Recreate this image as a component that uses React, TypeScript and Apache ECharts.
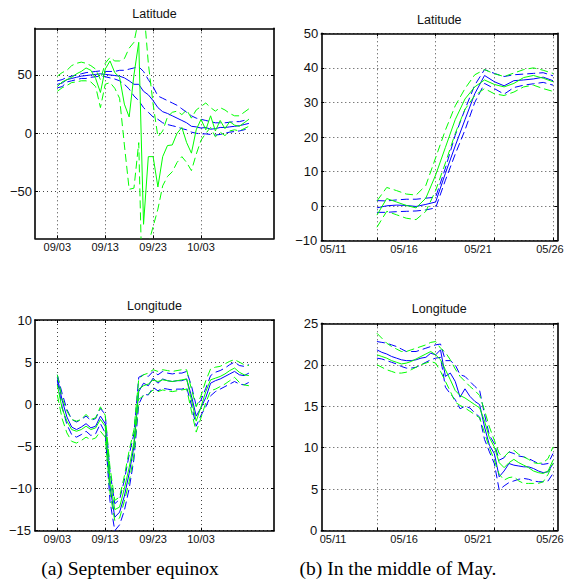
import React, { useEffect, useRef } from 'react';
import * as echarts from 'echarts';

// ---------- tick positions & labels ----------
const sepTickDays = [0, 10, 20, 30]; // days after 09/03
const sepTickLabels = ['09/03', '09/13', '09/23', '10/03'];
const mayGridPos = [0, 6, 12, 18]; // sample units
const mayLabelPos = [-4.49, 2.78, 10.34, 17.69];
const mayTickLabels = ['05/11', '05/16', '05/21', '05/26'];

const latSepTicks = [-50, 0, 50];
const lonSepTicks = [-15, -10, -5, 0, 5, 10];
const latMayTicks = [-10, 0, 10, 20, 30, 40, 50];
const lonMayTicks = [0, 5, 10, 15, 20, 25];

// ---------- (a) September equinox : Latitude (daily samples from 09/03) ----------
const latSepBlue = [42, 43, 46, 47, 48, 49, 49.5, 50, 50.5, 51, 50.5, 50, 49.5, 49, 47.5, 45, 42, 42, 36, 33, 28, 22, 18.5, 17, 15, 13, 11, 9, 6, 5.5, 4.5, 5, 3.5, 4, 5, 5, 5.5, 6, 6.5, 7.5, 8.5];
const latSepBlueUp = [45, 46, 48, 49, 50, 51, 52, 52.5, 53, 53.5, 53, 53, 53, 54, 54, 55, 56, 57, 53, 46, 40, 32, 30, 28, 26, 24, 21, 18, 15, 13, 12, 11, 10, 9, 9, 9, 9.5, 10, 10, 11, 12];
const latSepBlueLo = [39, 40, 44, 45, 46, 47, 47, 48, 48.5, 49, 48.5, 47.5, 46.5, 45, 42, 38, 32, 28, 22, 18, 14, 12, 9, 7.5, 6.5, 5.5, 4, 3, 1, 0, -0.5, -0.5, -1, -1.5, -1, 0, 1, 1.5, 2, 3, 4.5];
const latSepGreen = [40, 44, 46, 48, 51, 53, 56, 54, 47, 35, 55, 62, 52, 48, 25, 14, 50, 78, -78, -20, -20, -46, -20, -10.5, -10, 0, 5, -8, -17, 3, 12, 3, 15, 2, 11, 4, 10, 7, 6, 9, 12];
const latSepGreenUp = [49, 52, 54, 58, 60, 61, 60, 58, 55, 46, 60, 65, 62, 62, 64, 73, 78, 98, 110, 60, 25, -3, 2, 14, 18, 19, 16, 20, 13, 20, 23, 26, 22, 19, 22, 20, 17, 15, 15, 18, 21];
const latSepGreenLo = [36, 39, 41, 43.5, 44, 45, 45, 44, 40, 22, 42, 43.5, 38.6, 30, -10, -48, -47, -8, -180, -95, -80, -65, -45, -37, -33, -25, -20, -25, -32, -18, -6, 0, 5, -3, 1, -2, 2, 3, 2, 4, 6];

// ---------- (a) September equinox : Longitude ----------
const lonSepBlue = [3.2, 0.5, -1.5, -2.7, -3.0, -2.7, -2.3, -2.8, -2.6, -1.4, -2.3, -9.8, -13.4, -12.8, -10.9, -8.2, -5, 1.5, 2.5, 2.2, 3.1, 2.5, 3.0, 2.8, 2.7, 2.8, 2.8, 3.0, 1.0, -1.4, -0.4, 0.8, 2.5, 2.8, 3.0, 3.3, 3.6, 3.9, 3.5, 3.4, 3.7];
const lonSepBlueUp = [3.5, 1.3, -0.6, -1.8, -2.1, -1.8, -1.4, -1.9, -1.7, -0.5, -1.2, -8, -11.8, -11.3, -9, -6, -3.5, 3.2, 3.5, 3.3, 3.9, 3.5, 3.9, 3.7, 3.6, 3.7, 3.7, 3.9, 2.2, -0.2, 0.5, 1.9, 3.4, 3.8, 4.0, 4.3, 4.7, 5.0, 4.6, 4.5, 4.7];
const lonSepBlueLo = [2.8, -0.3, -2.4, -3.6, -3.9, -3.6, -3.2, -3.7, -3.5, -2.3, -3.4, -11.5, -15.0, -14.3, -12.6, -10, -6.5, 0.0, 1.2, 1.1, 2.0, 1.6, 1.9, 1.8, 1.7, 1.8, 1.8, 2.0, -0.1, -2.6, -1.3, -0.3, 1.0, 1.5, 1.8, 2.1, 2.4, 2.7, 2.4, 2.3, 2.6];
const lonSepGreen = [2.3, -0.5, -2.0, -3.0, -3.2, -3.0, -2.6, -3.0, -2.8, -1.8, -2.6, -9.0, -12.5, -12.2, -10.0, -7.5, -4.5, 1.8, 2.2, 2.4, 2.9, 2.7, 2.9, 2.8, 2.7, 2.8, 2.9, 3.0, 0.5, -2.0, -0.3, 1.5, 2.9, 3.1, 3.3, 3.6, 4.0, 4.3, 3.8, 3.5, 3.4];
const lonSepGreenUp = [3.5, 0.7, -0.8, -1.8, -2.0, -1.8, -1.2, -1.8, -1.6, -0.3, -1.3, -7.5, -11.4, -11.0, -8.5, -5.5, -3.0, 3.0, 3.5, 3.7, 4.1, 3.9, 4.1, 4.0, 3.9, 4.0, 4.1, 4.1, 1.8, -0.3, 1.0, 2.8, 4.2, 4.4, 4.5, 4.8, 5.1, 5.3, 5.0, 4.7, 4.6];
const lonSepGreenLo = [1.1, -1.7, -3.4, -4.4, -4.6, -4.3, -3.9, -4.2, -4.0, -3.2, -3.9, -10.5, -13.8, -13.5, -11.5, -9.2, -6.0, 0.6, 1.0, 1.2, 1.7, 1.5, 1.7, 1.6, 1.5, 1.6, 1.7, 1.8, -0.8, -3.3, -1.6, 0.2, 1.6, 1.8, 2.1, 2.4, 2.8, 3.2, 2.6, 2.3, 2.2];

// ---------- (b) Middle of May : Latitude (19 samples) ----------
const latMayBlue = [-0.5, 0.1, 0.3, 0.2, -0.1, 0.5, 1.2, 9.5, 17.4, 25, 32.5, 37.8, 36, 34.8, 36.3, 36.5, 36.8, 37.3, 36.3];
const latMayBlueUp = [1.6, 1.5, 1.8, 2, 2, 2.3, 2.6, 11, 20.5, 28, 35, 39.5, 38.4, 37.5, 38, 38.2, 38.4, 38.6, 37.7];
const latMayBlueLo = [-1.8, -1.8, -1.6, -1.5, -1.4, -1.1, -0.5, 7.5, 15, 22, 30, 35.5, 34, 32.4, 34.3, 35, 35.4, 35.8, 35];
const latMayGreen = [-2.6, 2.2, 1.2, 0.2, -0.5, 2.3, 9, 17, 25, 31, 34.5, 36.5, 35.2, 34.5, 35.5, 37.2, 37.8, 37, 36];
const latMayGreenUp = [1.5, 5.4, 4.5, 3.5, 3.2, 6, 14, 22, 29, 34, 38, 39.5, 38.3, 37.5, 38.5, 39.5, 40, 39.3, 38.4];
const latMayGreenLo = [-6.1, -1.5, -2.5, -3.5, -3.9, -1.5, 4.5, 12.5, 21, 28, 32, 34, 32.5, 32, 33, 34.5, 35, 34, 33.2];

// ---------- (b) Middle of May : Longitude (37 samples) ----------
const lonMayBlue = [21.8, 21.5, 21.3, 21.0, 20.8, 20.6, 20.5, 20.5, 20.6, 20.8, 20.9, 21.4, 21.2, 21.8, 18.6, 19.0, 18.0, 16.1, 17.1, 16.2, 15.6, 15.2, 12.5, 10.3, 9.3, 6.5, 7.2, 8.1, 7.9, 7.8, 7.7, 7.7, 7.5, 7.2, 7.0, 7.1, 8.1];
const lonMayBlueUp = [22.8, 22.7, 22.6, 22.4, 22.2, 21.9, 21.6, 21.6, 21.6, 21.8, 22.0, 22.2, 22.4, 22.5, 20.5, 20.5, 20.0, 18.8, 18.6, 18.0, 17.4, 16.9, 14.0, 11.5, 10.5, 8.5, 8.8, 9.5, 9.3, 9.0, 8.9, 8.7, 8.4, 8.1, 8.0, 8.1, 9.3];
const lonMayBlueLo = [20.8, 20.7, 20.5, 20.3, 20.1, 19.8, 19.6, 19.6, 19.7, 20.0, 20.3, 20.6, 20.8, 20.9, 17.3, 16.5, 15.8, 14.7, 15.0, 14.8, 14.2, 13.7, 11.0, 9.5, 8.1, 4.9, 5.4, 5.8, 6.0, 6.2, 6.3, 6.2, 6.0, 5.9, 5.9, 6.0, 6.9];
const lonMayGreen = [21.2, 21.0, 20.8, 20.5, 20.3, 20.1, 20.2, 20.4, 20.7, 21.0, 21.3, 21.6, 21.2, 20.6, 19.4, 18.2, 16.9, 16.3, 16.0, 15.6, 15.2, 14.8, 13.2, 11.2, 10.1, 8.2, 7.6, 8.2, 8.6, 8.2, 7.9, 7.6, 7.2, 7.0, 6.9, 7.2, 8.5];
const lonMayGreenUp = [23.8, 23.2, 22.6, 22.2, 21.9, 21.6, 21.6, 21.8, 22.0, 22.2, 22.4, 22.7, 22.8, 22.0, 21.5, 20.6, 19.5, 18.6, 18.0, 17.4, 16.9, 16.3, 14.5, 12.5, 10.9, 9.3, 8.9, 9.5, 9.7, 9.2, 8.9, 8.6, 8.2, 8.1, 8.2, 8.7, 10.1];
const lonMayGreenLo = [20.0, 19.7, 19.4, 19.2, 19.0, 19.0, 19.1, 19.4, 19.7, 20.0, 20.2, 20.4, 20.2, 19.2, 18.0, 16.8, 15.5, 15.1, 14.8, 14.4, 14.0, 13.6, 11.8, 10.0, 8.5, 6.8, 6.1, 6.4, 6.5, 6.0, 5.7, 5.7, 5.7, 5.7, 5.9, 6.8, 8.1];

const BLUE = '#0000ff';
const GREEN = '#00ff00';
const FONT = 'Liberation Sans, Arial, Helvetica, sans-serif';

type Line = { data: number[]; color: string; dashed: boolean };
type Panel = {
  title: string; titleX: number; titleY: number;
  left: number; top: number; width: number; height: number;
  xMin: number; xMax: number; xStep: number;
  xTicks: number[]; xLabelPos: number[]; xLabels: string[];
  yMin: number; yMax: number; yTicks: number[];
  lines: Line[];
};

const mk = (bm: number[], bu: number[], bl: number[], gm: number[], gu: number[], gl: number[]): Line[] => [
  { data: bu, color: BLUE, dashed: true },
  { data: bl, color: BLUE, dashed: true },
  { data: bm, color: BLUE, dashed: false },
  { data: gu, color: GREEN, dashed: true },
  { data: gl, color: GREEN, dashed: true },
  { data: gm, color: GREEN, dashed: false },
];

const panels: Panel[] = [
  {
    title: 'Latitude', titleX: 154.5, titleY: 14,
    left: 35, top: 28.3, width: 239, height: 210,
    xMin: -4.66, xMax: 45.24, xStep: 1,
    xTicks: sepTickDays, xLabelPos: sepTickDays, xLabels: sepTickLabels,
    yMin: -90, yMax: 90, yTicks: latSepTicks,
    lines: mk(latSepBlue, latSepBlueUp, latSepBlueLo, latSepGreen, latSepGreenUp, latSepGreenLo),
  },
  {
    title: 'Latitude', titleX: 439.3, titleY: 19.5,
    left: 321.3, top: 33.3, width: 236, height: 207.4,
    xMin: -5.69, xMax: 18.44, xStep: 1,
    xTicks: mayGridPos, xLabelPos: mayLabelPos, xLabels: mayTickLabels,
    yMin: -10, yMax: 50, yTicks: latMayTicks,
    lines: mk(latMayBlue, latMayBlueUp, latMayBlueLo, latMayGreen, latMayGreenUp, latMayGreenLo),
  },
  {
    title: 'Longitude', titleX: 154.5, titleY: 306,
    left: 35, top: 320, width: 239, height: 210.7,
    xMin: -4.66, xMax: 45.24, xStep: 1,
    xTicks: sepTickDays, xLabelPos: sepTickDays, xLabels: sepTickLabels,
    yMin: -15, yMax: 10, yTicks: lonSepTicks,
    lines: mk(lonSepBlue, lonSepBlueUp, lonSepBlueLo, lonSepGreen, lonSepGreenUp, lonSepGreenLo),
  },
  {
    title: 'Longitude', titleX: 439.3, titleY: 309,
    left: 321.3, top: 323.3, width: 236, height: 207.4,
    xMin: -5.69, xMax: 18.44, xStep: 0.5,
    xTicks: mayGridPos, xLabelPos: mayLabelPos, xLabels: mayTickLabels,
    yMin: 0, yMax: 25, yTicks: lonMayTicks,
    lines: mk(lonMayBlue, lonMayBlueUp, lonMayBlueLo, lonMayGreen, lonMayGreenUp, lonMayGreenLo),
  },
];

const captions = [
  { text: '(a) September equinox', x: 130, y: 568 },
  { text: '(b) In the middle of May.', x: 398, y: 568 },
];

const fmtY = (v: number) => (v < 0 ? '\u2212' + Math.abs(v) : String(v));
const Y_LABEL_MARGIN = 3;

function buildOption(): any {
  const grid: any[] = [];
  const xAxis: any[] = [];
  const yAxis: any[] = [];
  const series: any[] = [];
  const graphic: any[] = [];

  panels.forEach((p, g) => {
    grid.push({
      left: p.left, top: p.top, width: p.width, height: p.height,
      show: false, containLabel: false, outerBoundsMode: 'none',
    });
    const axisLine = { show: true, onZero: false, lineStyle: { color: '#000', width: 1.6 } };
    const tick = (vals: number[]) => ({
      show: true, inside: true, length: 3, customValues: vals,
      lineStyle: { color: '#000', width: 1 },
    });
    const split = { show: true, lineStyle: { color: '#444', width: 1, type: [1, 3] } };
    const xFmt = (v: number) => {
      const i = p.xLabelPos.findIndex((q) => Math.abs(q - v) < 1e-6);
      return i >= 0 ? p.xLabels[i] : '';
    };
    // the lowest y label is drawn as a plain text so that it is kept where it
    // meets the first date label (as in the reference)
    const yLabelVals = p.yTicks.filter((v) => v !== p.yMin);
    xAxis.push({
      type: 'value', gridIndex: g, position: 'bottom', min: p.xMin, max: p.xMax,
      axisLine, axisTick: tick(p.xTicks), splitLine: split,
      axisLabel: {
        show: true, customValues: p.xLabelPos, formatter: xFmt,
        showMinLabel: true, showMaxLabel: true, hideOverlap: false,
        fontSize: 11, fontFamily: FONT, color: '#111', margin: 3,
      },
    });
    xAxis.push({
      type: 'value', gridIndex: g, position: 'top', min: p.xMin, max: p.xMax,
      axisLine, axisTick: tick(p.xTicks), splitLine: { show: false }, axisLabel: { show: false },
    });
    yAxis.push({
      type: 'value', gridIndex: g, position: 'left', min: p.yMin, max: p.yMax,
      axisLine, axisTick: tick(p.yTicks), splitLine: split,
      axisLabel: {
        show: true, customValues: yLabelVals, formatter: fmtY,
        showMinLabel: true, showMaxLabel: true, hideOverlap: false,
        fontSize: 13, fontFamily: FONT, color: '#111', margin: Y_LABEL_MARGIN,
      },
    });
    yAxis.push({
      type: 'value', gridIndex: g, position: 'right', min: p.yMin, max: p.yMax,
      axisLine, axisTick: tick(p.yTicks), splitLine: { show: false }, axisLabel: { show: false },
    });

    if (p.yTicks.includes(p.yMin)) {
      graphic.push({
        type: 'text', x: p.left - Y_LABEL_MARGIN - 1, y: p.top + p.height, silent: true, z: 10,
        style: {
          text: fmtY(p.yMin), fontSize: 13, fontFamily: FONT, fill: '#111',
          align: 'right', verticalAlign: 'middle',
        },
      });
    }

    p.lines.forEach((ln) => {
      series.push({
        type: 'line', xAxisIndex: 2 * g, yAxisIndex: 2 * g,
        data: ln.data.map((v, i) => [i * p.xStep, v]),
        symbol: 'none', showSymbol: false, silent: true, clip: true,
        lineStyle: { color: ln.color, width: 1, type: ln.dashed ? [8, 4] : 'solid' },
      });
    });

    graphic.push({
      type: 'text', x: p.titleX, y: p.titleY, silent: true,
      style: {
        text: p.title, fontSize: 12.5, fontFamily: FONT, fill: '#111',
        align: 'center', verticalAlign: 'middle',
      },
    });
  });

  captions.forEach((c) => {
    graphic.push({
      type: 'text', x: c.x, y: c.y, silent: true,
      style: {
        text: c.text, fontSize: 19.5, fontFamily: 'Liberation Serif, Times New Roman, serif', fill: '#000',
        align: 'center', verticalAlign: 'middle',
      },
    });
  });

  return {
    animation: false,
    backgroundColor: '#ffffff',
    grid, xAxis, yAxis, series, graphic,
  };
}

export default function App() {
  const ref = useRef<HTMLDivElement>(null);
  useEffect(() => {
    document.body.style.margin = '0';
    if (!ref.current) return;
    const chart = echarts.init(ref.current, undefined, { renderer: 'svg' });
    chart.setOption(buildOption());
    return () => chart.dispose();
  }, []);
  return <div ref={ref} style={{ width: 564, height: 588 }} />;
}
